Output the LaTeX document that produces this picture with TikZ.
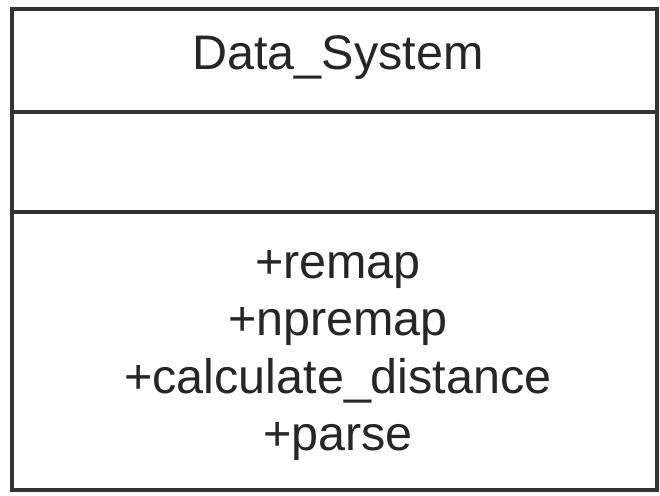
\documentclass[tikz,border=0pt]{standalone}
\usepackage{fontspec}
\setmainfont{Liberation Sans}
\begin{document}
\begin{tikzpicture}[x=1pt,y=-1pt,
  frame/.style={draw=black!80,line width=3.5pt},
  label/.style={font=\fontsize{48.5}{58}\selectfont,text=black!85,inner sep=0pt,anchor=base}]
\useasboundingbox (0,0) rectangle (660,495);
\fill[white] (0,0) rectangle (660,495);
% class box with three compartments
\coordinate (tl) at (12,9);
\coordinate (br) at (657,490);
\draw[frame] (tl) rectangle (br);
\draw[frame] (12,112) coordinate (d1l) -- (657,112) coordinate (d1r);
\draw[frame] (12,212) coordinate (d2l) -- (657,212) coordinate (d2r);
% class name
\node[label] (name) at (338,70) {Data\_System};
% operations
\node[label] (op1) at (338,278) {+remap};
\node[label] (op2) at (338,335) {+npremap};
\node[label] (op3) at (338,393) {+calculate\_distance};
\node[label] (op4) at (338,450) {+parse};
\end{tikzpicture}
\end{document}
